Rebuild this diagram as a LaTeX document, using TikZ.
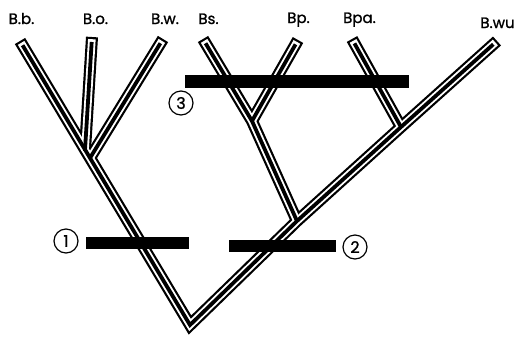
\documentclass[tikz,border=0pt]{standalone}
\usepackage{fontspec}
\setmainfont{Poppins}[FakeBold=1.2]
\newcommand\treepaths[1]{%
  \draw[#1] (Tbb) -- (R) -- (J3) -- (J4) -- (Twu);
  \draw[#1, shorten >=-1pt] (Tbo) -- (J1);
  \draw[#1, shorten >=-1pt] (Tbw) -- (J1b);
  \draw[#1, shorten >=-1pt] (Tbs) -- (J2) -- (J3);
  \draw[#1, shorten >=-1pt] (Tbp) -- (J2);
  \draw[#1, shorten >=-1pt] (Tbpa) -- (J4);
}
\begin{document}
\begin{tikzpicture}[x=1pt,y=-1pt,
  tubeout/.style={line width=12pt, black, line join=miter, line cap=butt},
  tubein/.style={line width=7.6pt, white, line join=miter, line cap=butt, shorten <=2.2pt, shorten >=2.2pt},
  tubecore/.style={line width=3.8pt, black, line join=miter, line cap=butt, shorten <=5pt, shorten >=5pt},
  bar/.style={fill=black},
  num/.style={circle, draw, line width=1.2pt, minimum size=24pt, inner sep=0pt, font=\fontsize{16}{16}\selectfont},
  lab/.style={font=\fontsize{15}{15}\selectfont, inner sep=0pt, anchor=base}]
\useasboundingbox (0,0) rectangle (524,338);
\coordinate (R) at (190,325);
\coordinate (Tbb) at (20,41);
\coordinate (J1) at (85,150);
\coordinate (J1b) at (90,158);
\coordinate (Tbo) at (92,37);
\coordinate (Tbw) at (163,39);
\coordinate (J3) at (297,221);
\coordinate (J4) at (401,127);
\coordinate (Twu) at (497,41);
\coordinate (J2) at (252,121);
\coordinate (Tbs) at (203,39);
\coordinate (Tbp) at (298,40);
\coordinate (Tbpa) at (352,39);
\treepaths{tubeout}
\treepaths{tubein}
\treepaths{tubecore}
\fill[bar] (86,237) rectangle (189,249);
\fill[bar] (229,240) rectangle (336,252);
\fill[bar] (185,75) rectangle (409,88);
\node[num] (n1) at (66,241) {1};
\node[num] (n2) at (355,247) {2};
\node[num] (n3) at (181,103) {3};
\node[lab] (lbb) at (21.5,24) {B.b.};
\node[lab] (lbo) at (95.5,24) {B.o.};
\node[lab] (lbw) at (165,24) {B.w.};
\node[lab] (lbs) at (208.5,24) {Bs.};
\node[lab] (lbp) at (298.5,23) {Bp.};
\node[lab] (lbpa) at (359.5,23) {Bpa.};
\node[lab] (lbwu) at (497.5,28) {B.wu};
\end{tikzpicture}
\end{document}
